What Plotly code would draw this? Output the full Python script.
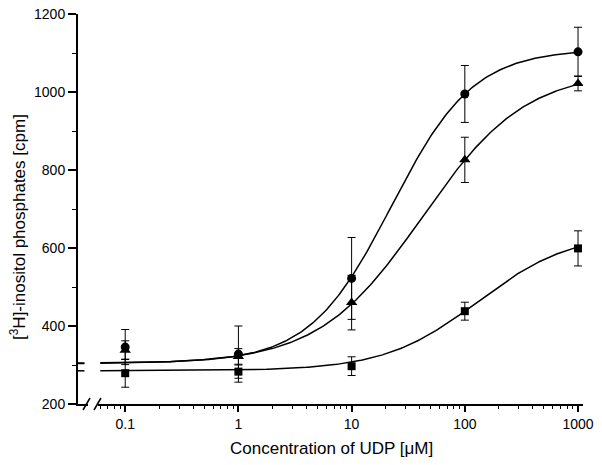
import numpy as np
import plotly.graph_objects as go

# ---- data ----
conc = [0.1, 1, 10, 100, 1000]

circle_y = [346, 328, 522, 995, 1103]
circle_err = [45, 72, 105, 73, 63]

triangle_y = [338, 322, 460, 826, 1022]
triangle_err = [24, 20, 70, 58, 19]

square_y = [279, 283, 297, 438, 599]
square_err = [36, 17, 24, 23, 45]

# fitted sigmoidal (4-parameter logistic) curves: bottom, top, EC50, Hill
circle_fit = [305, 1110, 22.5, 1.2]
triangle_fit = [303, 1055, 42, 0.95]
square_fit = [285, 640, 130, 1.05]

x_tickvals = [0.1, 1, 10, 100, 1000]
x_ticktext = ["0.1", "1", "10", "100", "1000"]
x_minor = [m * 10.0 ** e for e in range(-2, 3) for m in range(2, 10) if m * 10.0 ** e > 0.055]
y_tickvals = [200, 400, 600, 800, 1000, 1200]
y_minor = [300, 500, 700, 900, 1100]

XMIN_LOG, XMAX_LOG = -1.417, 3.044
FONT = "Liberation Sans, Arial, Helvetica, sans-serif"


def logistic(x, p):
    b, t, ec, h = p
    x = np.asarray(x, dtype=float)
    return b + (t - b) / (1 + (ec / x) ** h)


def curve_xy(p):
    stub_x = np.logspace(XMIN_LOG, -1.36, 5)
    main_x = np.logspace(-1.22, 3, 300)
    xs = list(stub_x) + [None] + list(main_x)
    ys = list(logistic(stub_x, p)) + [None] + list(logistic(main_x, p))
    return xs, ys


fig = go.Figure()

for p in (circle_fit, triangle_fit, square_fit):
    cx, cy = curve_xy(p)
    fig.add_trace(go.Scatter(x=cx, y=cy, mode="lines",
                             line=dict(color="black", width=1.5),
                             showlegend=False, hoverinfo="skip"))

series = [
    (circle_y, circle_err, "circle", 9),
    (triangle_y, triangle_err, "triangle-up", 10),
    (square_y, square_err, "square", 8),
]
for ys, errs, sym, sz in series:
    fig.add_trace(go.Scatter(
        x=conc, y=ys, mode="markers",
        marker=dict(symbol=sym, size=sz, color="black"),
        error_y=dict(type="data", array=errs, visible=True,
                     color="black", thickness=1, width=4),
        showlegend=False))

L, R, T, B = 78, 19, 14, 61
W, H = 602, 465
pw, ph = W - L - R, H - T - B


def px(xp):
    return (xp - L) / pw


def py(yp):
    return (H - B - yp) / ph


fig.update_layout(
    width=W, height=H,
    margin=dict(l=L, r=R, t=T, b=B, pad=0, autoexpand=False),
    paper_bgcolor="white", plot_bgcolor="white",
    font=dict(family=FONT, size=14, color="black"),
    xaxis=dict(type="log", range=[XMIN_LOG, XMAX_LOG], automargin=False,
               tickmode="array", tickvals=x_tickvals, ticktext=x_ticktext,
               ticks="outside", ticklen=6, tickwidth=1.5, tickcolor="black",
               showline=True, linewidth=2, linecolor="black",
               showgrid=False, zeroline=False,
               minor=dict(tickmode="array", tickvals=x_minor, ticks="outside",
                          ticklen=3, tickwidth=1.2, tickcolor="black",
                          showgrid=False),
               tickfont=dict(size=14)),
    yaxis=dict(range=[200, 1200], automargin=False,
               tickmode="array", tickvals=y_tickvals,
               ticks="outside", ticklen=8, tickwidth=1.5, tickcolor="black",
               showline=True, linewidth=2, linecolor="black",
               showgrid=False, zeroline=False,
               minor=dict(tickmode="array", tickvals=y_minor, ticks="outside",
                          ticklen=4, tickwidth=1.2, tickcolor="black",
                          showgrid=False),
               tickfont=dict(size=14)),
    annotations=[
        dict(text="[<sup>3</sup>H]-inositol phosphates [cpm]",
             xref="paper", yref="paper", x=px(18), y=py(227),
             xanchor="center", yanchor="middle", textangle=-90,
             showarrow=False, font=dict(size=17, family=FONT)),
        dict(text="Concentration of UDP [\u03bcM]",
             xref="paper", yref="paper", x=px(331), y=py(448),
             xanchor="center", yanchor="middle",
             showarrow=False, font=dict(size=17, family=FONT)),
    ],
    shapes=[
        # gap in x axis for the break
        dict(type="rect", xref="paper", yref="paper",
             x0=px(88), x1=px(98), y0=py(400), y1=py(408),
             fillcolor="white", line=dict(width=0), layer="above"),
        dict(type="line", xref="paper", yref="paper",
             x0=px(83), y0=py(410), x1=px(90), y1=py(398),
             line=dict(color="black", width=1.5), layer="above"),
        dict(type="line", xref="paper", yref="paper",
             x0=px(94), y0=py(410), x1=px(101), y1=py(398),
             line=dict(color="black", width=1.5), layer="above"),
    ],
)

fig.write_html("out.html",
               config={"displayModeBar": False},
               post_script="document.body.style.margin='0px';document.body.style.overflow='hidden';")
